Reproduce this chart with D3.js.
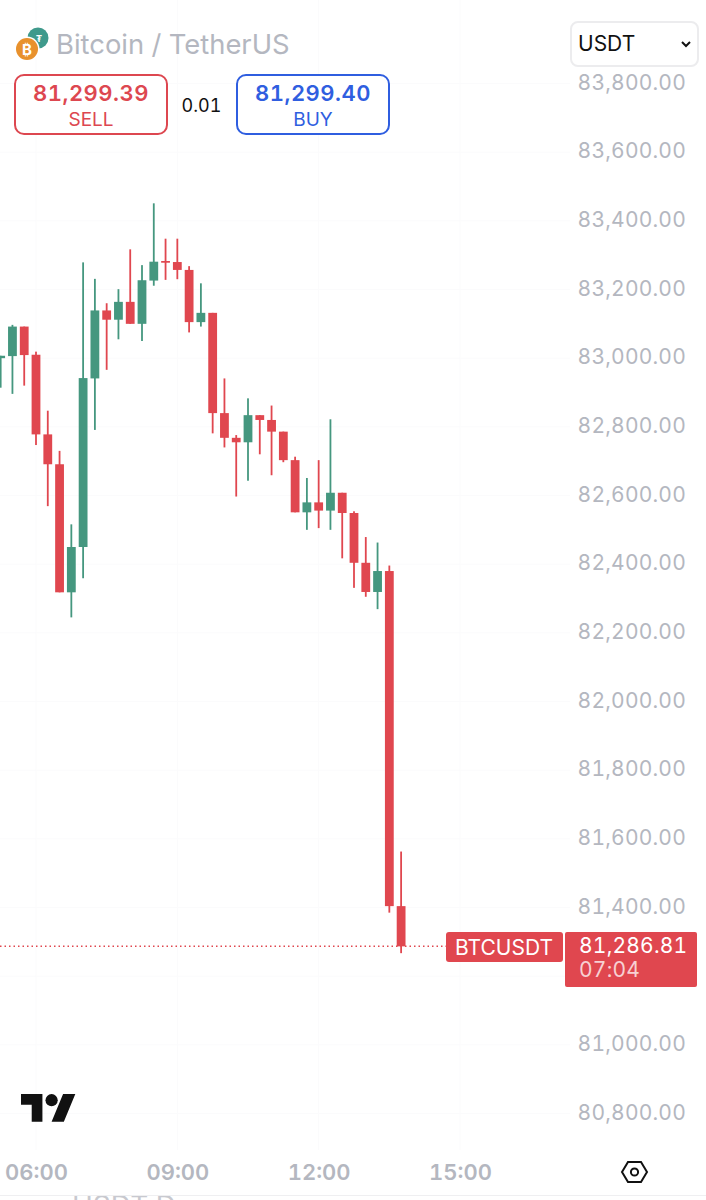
<!DOCTYPE html>
<html><head><meta charset="utf-8">
<script src="https://cdn.jsdelivr.net/npm/d3@7/dist/d3.min.js"></script>
<style>html,body{margin:0;padding:0;background:#fff;overflow:hidden}svg{display:block}text{font-family:Inter,"Noto Sans",sans-serif;font-variant-numeric:tabular-nums}</style>
</head><body><svg id="c" width="706" height="1200"></svg>
<script>
const startTimes = ["05:15","05:30","05:45","06:00","06:15","06:30","06:45","07:00","07:15","07:30","07:45","08:00","08:15","08:30","08:45","09:00","09:15","09:30","09:45","10:00","10:15","10:30","10:45","11:00","11:15","11:30","11:45","12:00","12:15","12:30","12:45","13:00","13:15","13:30","13:45"];
const opens  = [83000,83006,83092,83010,82778,82691,82318,82450,82941,83139,83112,83164,83100,83226,83283,83280,83257,83105,83132,82840,82768,82755,82834,82820,82786,82703,82551,82580,82556,82608,82549,82404,82319,82380,81404];
const highs  = [83007,83097,83092,83019,82847,82730,82516,83279,83231,83160,83201,83317,83271,83451,83348,83348,83268,83218,83132,82941,82776,82883,82834,82862,82786,82713,82651,82703,82822,82608,82554,82479,82463,82396,81563];
const lows   = [82914,82896,82920,82747,82569,82318,82245,82359,82791,82966,83055,83100,83050,83211,83228,83230,83075,83092,82781,82740,82597,82643,82720,82659,82697,82551,82500,82505,82500,82417,82331,82305,82269,81385,81267];
const closes = [83007,83092,83009,82778,82691,82318,82450,82942,83139,83112,83164,83100,83227,83281,83278,83257,83105,83132,82840,82768,82755,82834,82820,82786,82703,82551,82580,82556,82608,82549,82404,82319,82380,81404,81286.81];
const priceTicks = [83800,83600,83400,83200,83000,82800,82600,82400,82200,82000,81800,81600,81400,81000,80800];
const gridPrices = [83800,83600,83400,83200,83000,82800,82600,82400,82200,82000,81800,81600,81400,81200,81000,80800];
const timeTicks = ["06:00","09:00","12:00","15:00"];
const lastPrice = 81286.81, bid = "81,299.39", ask = "81,299.40", spread = "0.01", countdown = "07:04";

const RED="#e0474f", GREEN="#45977f", GREY="#b4b7c0";
const mins = s => { const [h,m]=s.split(":").map(Number); return h*60+m; };
const x = d3.scaleLinear().domain([mins("06:00"),mins("15:00")]).range([36,460]);
const y = d3.scaleLinear().domain([83800,80800]).range([83.5,1113.5]);
const svg = d3.select("#c");

// faint grid
svg.append("g").selectAll("line").data(gridPrices).join("line")
  .attr("x1",0).attr("x2",570).attr("y1",d=>y(d)).attr("y2",d=>y(d)).attr("stroke","#fbfbfc");
svg.append("g").selectAll("line").data(timeTicks).join("line")
  .attr("x1",d=>x(mins(d))).attr("x2",d=>x(mins(d))).attr("y1",0).attr("y2",1150).attr("stroke","#fbfbfc");

// candles
const candles = startTimes.map((t,i)=>({t:mins(t),o:opens[i],h:highs[i],l:lows[i],c:closes[i]}));
const col = d => d.c>=d.o?GREEN:RED;
const g = svg.append("g");
g.selectAll("rect.w").data(candles).join("rect").attr("class","w")
  .attr("x",d=>x(d.t)-0.9).attr("width",1.8).attr("y",d=>y(d.h)).attr("height",d=>y(d.l)-y(d.h)).attr("fill",col);
g.selectAll("rect.b").data(candles).join("rect").attr("class","b")
  .attr("x",d=>x(d.t)-4.4).attr("width",8.8)
  .attr("y",d=>y(Math.max(d.o,d.c))).attr("height",d=>Math.max(1.5,Math.abs(y(d.o)-y(d.c)))).attr("fill",col);

// last price line
svg.append("line").attr("x1",0).attr("x2",446).attr("y1",y(lastPrice)).attr("y2",y(lastPrice))
  .attr("stroke",RED).attr("stroke-width",1.5).attr("stroke-dasharray","1.5 3");

// price axis
const fmt = d3.format(",.2f");
const ay = svg.append("g").attr("transform","translate(686,-1)")
  .call(d3.axisLeft(y).tickValues(priceTicks).tickFormat(fmt).tickSize(0).tickPadding(0));
ay.select(".domain").remove();
ay.selectAll("text").attr("fill",GREY).style("font-size","21px").style("letter-spacing","0.2px");

// time axis
const ax = svg.append("g").attr("transform","translate(0,1172)")
  .call(d3.axisBottom(x).tickValues(timeTicks.map(mins)).tickFormat(d=>timeTicks.find(t=>mins(t)===d)).tickSize(0).tickPadding(0));
ax.select(".domain").remove();
ax.selectAll("text").attr("fill",GREY).attr("dy","0.35em").attr("y",0).style("font-size","22px").style("font-weight","600");

// header
const btc = svg.append("g");
btc.append("circle").attr("cx",38).attr("cy",38).attr("r",10.5).attr("fill","#3f9a8c");
btc.append("text").attr("x",39).attr("y",42).attr("text-anchor","middle").attr("fill","#fff").style("font-size","9px").style("font-weight","700").text("₮");
btc.append("circle").attr("cx",27).attr("cy",49).attr("r",12.5).attr("fill","#fff");
btc.append("circle").attr("cx",27).attr("cy",49).attr("r",11).attr("fill","#e8912d");
btc.append("text").attr("x",27).attr("y",54.5).attr("text-anchor","middle").attr("fill","#fff").style("font-size","15px").style("font-weight","700").text("₿");
svg.append("text").attr("x",56).attr("y",54).attr("fill",GREY).style("font-size","27.4px").text("Bitcoin / TetherUS");

function quote(bx,color,price,label){
  svg.append("rect").attr("x",bx).attr("y",75).attr("width",152).attr("height",59).attr("rx",9).attr("fill","#fff").attr("stroke",color).attr("stroke-width",2);
  svg.append("text").attr("x",bx+76).attr("y",101).attr("text-anchor","middle").attr("fill",color).style("font-size","22px").style("font-weight","600").style("letter-spacing","0.5px").text(price);
  svg.append("text").attr("x",bx+76).attr("y",126).attr("text-anchor","middle").attr("fill",color).style("font-size","19px").text(label);
}
quote(15,"#dd4750",bid,"SELL");
quote(237,"#2f5ee0",ask,"BUY");
svg.append("text").attr("x",201.5).attr("y",112).attr("text-anchor","middle").attr("fill","#111").style("font-size","18px").text(spread);

// selector
svg.append("rect").attr("x",571).attr("y",22).attr("width",127).attr("height",44).attr("rx",7).attr("fill","#fff").attr("stroke","#ececee").attr("stroke-width",2);
svg.append("text").attr("x",578).attr("y",51).attr("fill","#111").style("font-size","21px").text("USDT");
svg.append("path").attr("d","M682 42l4 4 4-4").attr("fill","none").attr("stroke","#111").attr("stroke-width",2);

// tags
svg.append("rect").attr("x",446).attr("y",932).attr("width",117).attr("height",30).attr("rx",3).attr("fill",RED);
svg.append("rect").attr("x",565).attr("y",932).attr("width",132).attr("height",55).attr("rx",2).attr("fill",RED);
svg.append("text").attr("x",455).attr("y",955).attr("fill","#fff").style("font-size","21px").text("BTCUSDT");
svg.append("text").attr("x",579).attr("y",953).attr("fill","#fff").style("font-size","21px").style("letter-spacing","0.2px").text(fmt(lastPrice));
svg.append("text").attr("x",579).attr("y",977).attr("fill","#fff").attr("fill-opacity",0.75).style("font-size","21px").style("letter-spacing","0.2px").text(countdown);

// TV logo
const logo = svg.append("g").attr("transform","translate(21,1088) scale(1.53)").attr("fill","#111");
logo.append("path").attr("d","M14 22H7V11H0V4h14v18zM28 22h-8l7.5-18h8L28 22z");
logo.append("circle").attr("cx",20).attr("cy",8).attr("r",4);

// settings
svg.append("path").attr("d","M622 1172l6-10h13l6 10-6 10h-13z").attr("fill","none").attr("stroke","#111").attr("stroke-width",2);
svg.append("circle").attr("cx",634.5).attr("cy",1172).attr("r",3.6).attr("fill","none").attr("stroke","#111").attr("stroke-width",2);

// bottom divider and the clipped page text below it
svg.append("clipPath").attr("id","bottomClip").append("rect").attr("x",0).attr("y",1196).attr("width",706).attr("height",4);
svg.append("text").attr("clip-path","url(#bottomClip)").attr("x",72).attr("y",1216).attr("fill","#c8c9cf").style("font-size","28px").text("USDT D");
svg.append("line").attr("x1",0).attr("x2",706).attr("y1",1195.5).attr("y2",1195.5).attr("stroke","#efeff1");
</script></body></html>
